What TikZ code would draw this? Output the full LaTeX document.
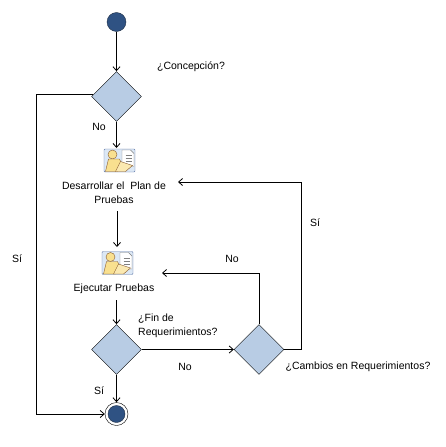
\documentclass[tikz,border=0pt]{standalone}
\usepackage{fontspec}
\setmainfont{Liberation Sans}
\definecolor{rombo}{HTML}{B8CCE4}
\definecolor{punto}{HTML}{2F5283}
\definecolor{borde}{HTML}{1F2F45}
\definecolor{marco}{HTML}{5F77A8}
\definecolor{persona}{HTML}{F9E08F}
\definecolor{fondo}{HTML}{DCE8F5}
\usetikzlibrary{shapes.geometric,arrows.meta}
\tikzset{
    rombo/.style={draw=black, fill=rombo, diamond, aspect=1, minimum width=50pt, minimum height=50pt, inner sep=0pt},
    inicio/.style={circle, draw=borde, fill=punto, minimum size=19pt, inner sep=0pt},
    fin/.style={circle, draw=black, fill=white, minimum size=23pt, inner sep=0pt},
    icono/.style={draw=marco, fill=fondo, rounded corners=1pt, minimum width=31pt, minimum height=23pt, inner sep=0pt},
    texto/.style={font=\fontsize{10.5}{14}\selectfont, align=center, inner sep=0pt},
    linea/.style={draw=black, line width=0.8pt},
    flecha/.style={linea, ->, >={Straight Barb[length=4pt,width=7pt]}},
    pics/actividad/.style={code={
        \draw[draw=gray, fill=white] (2.5,-10.5) -- (11,-10.5) -- (14.5,-7) -- (14.5,6) -- (2.5,6) -- cycle;
        \draw[gray] (6,-5) -- (12,-5) (6,-2) -- (12,-2) (6,1) -- (12,1);
        \draw[draw=brown!70!black, fill=persona] (-7,-6) circle (4.5);
        \draw[draw=brown!70!black, fill=persona] (-11,-1.5) -- (0,-1.5) -- (2,3) -- (-2,11) -- (-14,11) -- cycle;
        \draw[draw=brown!70!black, fill=persona!70!white] (1,1) -- (13,5) -- (6,11) -- (-4,11) -- cycle;
    }},
}
\begin{document}
\begin{tikzpicture}[x=1pt,y=-1pt]
    \useasboundingbox (0,0) rectangle (445,447);

    \node[inicio] at (116.5,22) (ini) {};
    \node[rombo] at (116.5,96.5) (conc) {};
    \node[icono] at (119.5,160.5) (iplan) {};
    \pic at (iplan) {actividad};
    \node[texto] at (114,193) (plan) {Desarrollar el\ \ Plan de\\Pruebas};
    \node[icono] at (117.5,263) (iejec) {};
    \pic at (iejec) {actividad};
    \node[texto] at (114,289) (ejec) {Ejecutar Pruebas};
    \node[rombo] at (116.5,349.5) (finreq) {};
    \node[rombo] at (259,349.5) (camb) {};
    \node[fin] at (116.5,414) (fin) {};
    \node[inicio, minimum size=17pt] at (116.5,414) (finp) {};

    \coordinate (salconc) at (93,94);
    \coordinate (entraplan) at (116.5,148);
    \coordinate (bajaplan) at (117,211);
    \coordinate (entraejec) at (117,247);
    \coordinate (bajaejec) at (116.5,300);
    \coordinate (vueltaplan) at (178,182);
    \coordinate (vueltaejec) at (162,273);

    \draw[flecha] (ini) -- (conc.north);
    \draw[flecha] (conc.south) -- (entraplan);
    \draw[flecha] (bajaplan) -- (entraejec);
    \draw[flecha] (bajaejec) -- (finreq.north);
    \draw[flecha] (finreq.south) -- (fin.north);
    \draw[flecha] (finreq.east) -- (camb.west);
    \draw[flecha] (salconc) -- (36,94) -- (36,414) -- (fin.west);
    \draw[flecha] (camb.east) -- (301,349.5) -- (301,182) -- (vueltaplan);
    \draw[flecha] (camb.north) -- (259,273) -- (vueltaejec);

    \node[texto] at (191,67) (tconc) {¿Concepción?};
    \node[texto] at (99,127) (tno1) {No};
    \node[texto] at (17,259) (tsi1) {Sí};
    \node[texto] at (315,223) (tsi2) {Sí};
    \node[texto] at (232,259) (tno2) {No};
    \node[texto, align=left, anchor=west] at (138,326) (tfin) {¿Fin de\\Requerimientos?};
    \node[texto] at (185,367) (tno3) {No};
    \node[texto] at (99,391) (tsi3) {Sí};
    \node[texto] at (358,367) (tcamb) {¿Cambios en Requerimientos?};
\end{tikzpicture}
\end{document}
